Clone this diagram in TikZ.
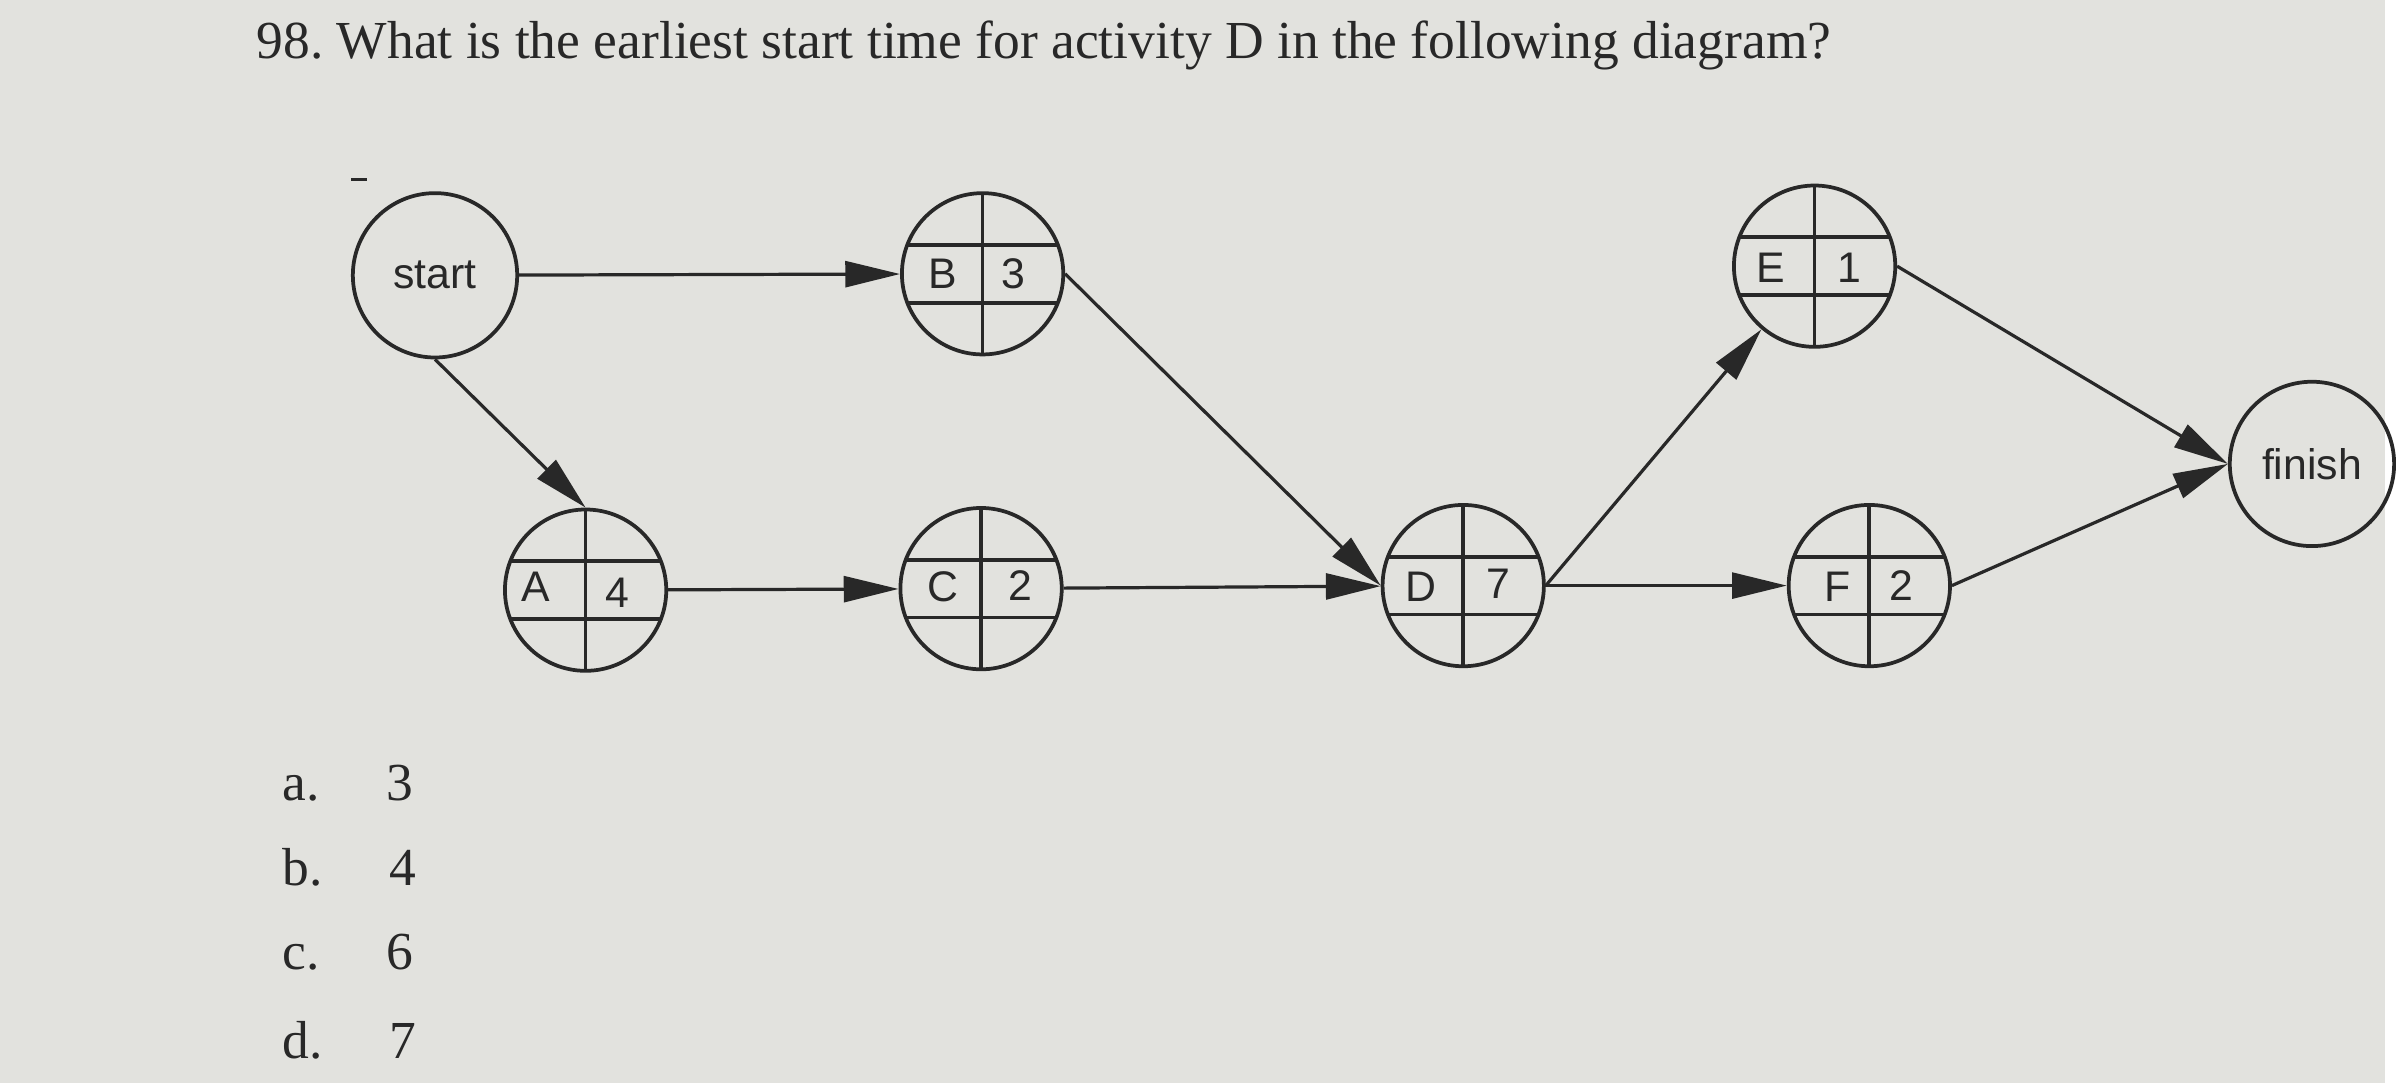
\documentclass[tikz,border=0pt]{standalone}
\usepackage{fontspec}
\setmainfont{Liberation Serif}
\newfontfamily\lsans{Liberation Sans}
\usetikzlibrary{arrows.meta}
\definecolor{paper}{RGB}{226,226,222}
\definecolor{ink}{RGB}{40,40,40}
\begin{document}
\begin{tikzpicture}[x=0.01cm,y=-0.01cm,
  every node/.style={text=ink},
  act/.style={circle,draw=ink,line width=0.7pt,minimum size=1.06cm,inner sep=0pt,
    path picture={
      \draw[ink,line width=0.7pt] ([yshift=0.19cm]path picture bounding box.west) -- ([yshift=0.19cm]path picture bounding box.east);
      \draw[ink,line width=0.7pt] ([yshift=-0.19cm]path picture bounding box.west) -- ([yshift=-0.19cm]path picture bounding box.east);
      \draw[ink,line width=0.7pt] (path picture bounding box.north) -- (path picture bounding box.south);}},
  term/.style={circle,draw=ink,line width=0.7pt,minimum size=1.08cm,inner sep=0pt,font=\lsans\fontsize{8}{9}\selectfont},
  lab/.style={font=\lsans\fontsize{8}{9}\selectfont,inner sep=0pt},
  arr/.style={draw=ink,line width=0.6pt,-{Triangle[length=0.36cm,width=0.17cm]}},
  q/.style={anchor=west,font=\fontsize{10}{12}\selectfont,inner sep=0pt}]
\fill[paper] (0,0) rectangle (1568,712);
\node[q] (title) at (168,30) {98.\ What is the earliest start time for activity D in the following diagram?};
\node[term] (start) at (286,181) {start};
\node[term] (finish) at (1520,305) {finish};
\node[act] (B) at (646,180) {}; \node[lab] (Bl) at (620,180) {B}; \node[lab] (Bn) at (666,180) {3};
\node[act] (A) at (385,388) {}; \node[lab] (Al) at (352,386) {A}; \node[lab] (An) at (406,390) {4};
\node[act] (C) at (645,387) {}; \node[lab] (Cl) at (620,386) {C}; \node[lab] (Cn) at (671,385) {2};
\node[act] (D) at (962,385) {}; \node[lab] (Dl) at (934,386) {D}; \node[lab] (Dn) at (985,384) {7};
\node[act] (E) at (1193,175) {}; \node[lab] (El) at (1164,176) {E}; \node[lab] (En) at (1216,176) {1};
\node[act] (F) at (1229,385) {}; \node[lab] (Fl) at (1208,386) {F}; \node[lab] (Fn) at (1250,385) {2};
\node[lab] (dash) at (236,118) {\rule{0.1cm}{0.6pt}};
\draw[arr] (start) -- (B);
\draw[arr] (start.south) -- (A.north);
\draw[arr] (A) -- (C);
\draw[arr] (B.east) -- (D.west);
\draw[arr] (C) -- (D);
\draw[arr] (D.east) -- (E);
\draw[arr] (D.east) -- (F);
\draw[arr] (E.east) -- (finish.west);
\draw[arr] (F.east) -- (finish.west);
\node[q] (a) at (185,515) {a.\quad\hspace{2.5pt}3};
\node[q] (b) at (185,570) {b.\quad\hspace{2.5pt}4};
\node[q] (c) at (185,626) {c.\quad\hspace{2.5pt}6};
\node[q] (d) at (185,684) {d.\quad\hspace{2.5pt}7};
\end{tikzpicture}
\end{document}
